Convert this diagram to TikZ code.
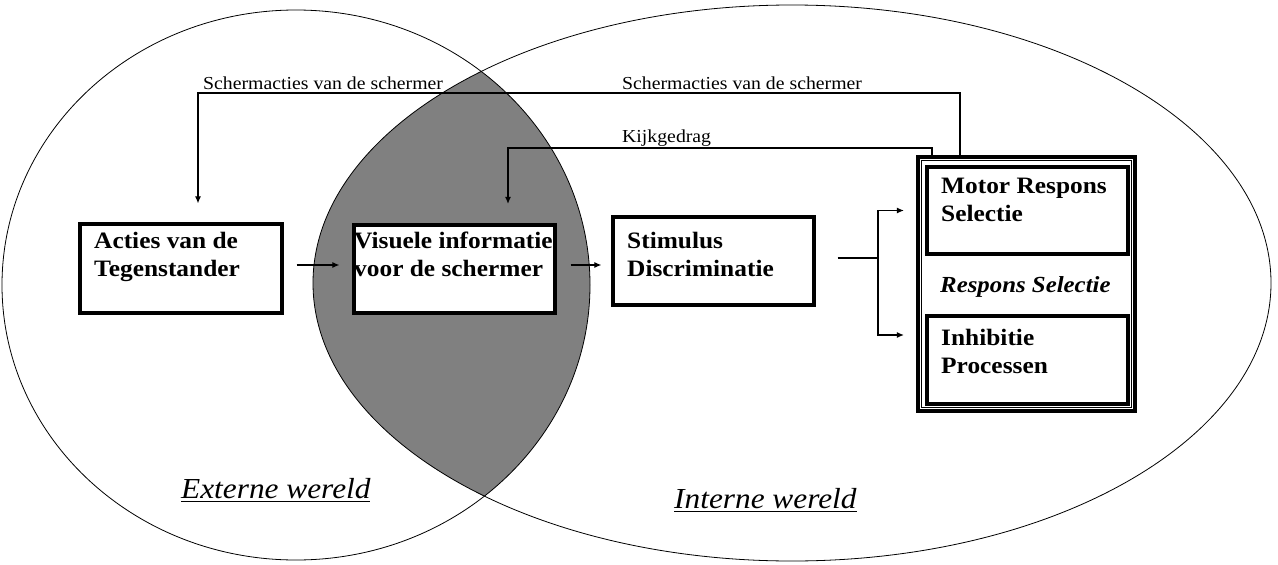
\documentclass[tikz,border=0pt]{standalone}
\usepackage{fontspec}
\setmainfont{Liberation Serif}[FakeStretch=1.08]
\usetikzlibrary{arrows.meta,calc}
\definecolor{lensgray}{RGB}{128,128,128}
\newcommand\myul[1]{\setbox0\hbox{#1}\rlap{\rule[-4pt]{\wd0}{1.3pt}}\box0}
\begin{document}
\begin{tikzpicture}[x=1pt,y=-1pt,
  box/.style={draw, fill=white, line width=4pt, minimum width=201pt, minimum height=88pt, inner sep=0pt},
  btxt/.style={font=\fontsize{23.5}{28}\selectfont\bfseries, align=left, anchor=base west, inner sep=0pt},
  lbl/.style={font=\fontsize{18.3}{21}\selectfont, anchor=base west, inner sep=0pt},
  world/.style={font=\fontsize{29}{33}\selectfont\itshape, anchor=base west, inner sep=0pt},
  conn/.style={line width=1.1pt},
  arr/.style={conn, -{Latex[length=7pt,width=6pt]}},
  ell/.style={line width=0.8pt}
]
\fill[white] (0,0) rectangle (1278,565);
\useasboundingbox (0,0) rectangle (1278,565);

% ellipses and lens
\begin{scope}
  \clip (296,285) ellipse [x radius=294, y radius=275];
  \fill[lensgray] (792,283) ellipse [x radius=479, y radius=278];
\end{scope}
\draw[ell] (296,285) ellipse [x radius=294, y radius=275];
\draw[ell] (792,283) ellipse [x radius=479, y radius=278];

% boxes
\node[box, minimum width=202pt, minimum height=89pt] (acties) at (181,268.5) {};
\node[box] (visuele) at (454.5,268.5) {};
\node[box] (stimulus) at (713.5,261) {};
\node[draw, line width=4pt, fill=white, minimum width=217pt, minimum height=254pt, inner sep=0pt] (frame) at (1026.5,284) {};
\draw[line width=1.4pt] ($(frame.north west)+(5.5,5.5)$) rectangle ($(frame.south east)+(-5.5,-5.5)$);
\node[box, minimum height=87pt] (motor) at (1027,210.5) {};
\node[box] (inhibitie) at (1027,360) {};

% box texts (base = baseline of the last line)
\node[btxt] (tacties) at (94,276) {Acties van de\\Tegenstander};
\node[btxt] (tvisuele) at (354,276) {Visuele informatie\\voor de schermer};
\node[btxt] (tstimulus) at (627,276) {Stimulus\\Discriminatie};
\node[btxt] (tmotor) at (941,221) {Motor Respons\\Selectie};
\node[btxt, font=\fontsize{23}{28}\selectfont\bfseries\itshape] (tresp) at (940,292) {Respons Selectie};
\node[btxt] (tinhib) at (941,373) {Inhibitie\\Processen};

% connectors
\draw[arr, shorten <=12.6pt, shorten >=12.6pt] ([yshift=3.5pt]acties.east) -- ([yshift=3.5pt]visuele.west);
\draw[arr, shorten <=13.6pt, shorten >=9.6pt] ([yshift=3.5pt]visuele.east) -- ([yshift=3.5pt]visuele.east -| stimulus.west);
\coordinate (j) at (878,258);
\draw[conn, shorten <=21.6pt] ([yshift=3pt]stimulus.east) -- (j);
\draw[arr, shorten >=20.6pt] (j) |- (motor.west);
\draw[arr, shorten >=20.6pt] (j) |- ([yshift=25pt]inhibitie.west);

\coordinate (t1) at (960,93);
\coordinate (t2) at (932,148);
\draw[arr, shorten >=18.6pt] (t1 |- frame.north) -- (t1) -| ([xshift=17pt]acties.north);
\draw[arr, shorten >=18.6pt] (t2 |- frame.north) -- (t2) -| ([xshift=53.5pt]visuele.north);

% labels
\node[lbl] (l1) at (203,89) {Schermacties van de schermer};
\node[lbl] (l2) at (622,89) {Schermacties van de schermer};
\node[lbl] (l3) at (622,142) {Kijkgedrag};

\node[world] (ext) at (181,498) {\myul{Externe wereld}};
\node[world] (int) at (674,508) {\myul{Interne wereld}};
\end{tikzpicture}
\end{document}
